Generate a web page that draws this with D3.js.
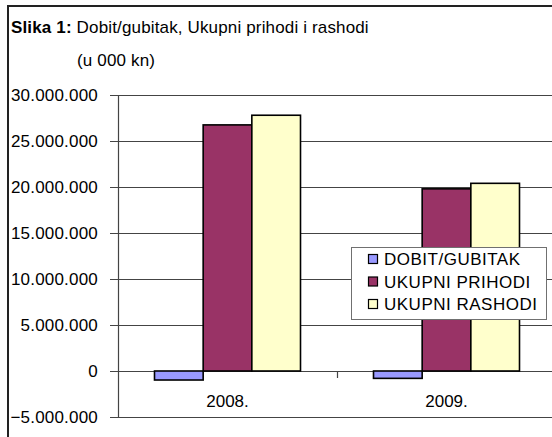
<!DOCTYPE html>
<html><head><meta charset="utf-8">
<script src="https://cdn.jsdelivr.net/npm/d3@7"></script>
<style>
body{margin:0;background:#fff;}
text{font-family:"Liberation Sans",Arial,sans-serif;fill:#000;}
</style></head>
<body><svg id="c" width="552" height="437"></svg>
<script>
const categories = ["2008.", "2009."];
const seriesNames = ["DOBIT/GUBITAK", "UKUPNI PRIHODI", "UKUPNI RASHODI"];
const seriesColors = ["#9999FF", "#993366", "#FFFFCC"];
const dobit = [-980000, -800000];
const prihodi = [26750000, 19800000];
const rashodi = [27800000, 20400000];
const yTicks = [-5000000, 0, 5000000, 10000000, 15000000, 20000000, 25000000, 30000000];

const values = [dobit, prihodi, rashodi];
const svg = d3.select("#c");

// outer frame
svg.append("line").attr("x1",8).attr("x2",552).attr("y1",6).attr("y2",6).attr("stroke","#222").attr("stroke-width",2);
svg.append("line").attr("x1",8).attr("x2",8).attr("y1",5).attr("y2",437).attr("stroke","#222").attr("stroke-width",2);

// title
const t = svg.append("text").attr("x",11).attr("y",33).attr("font-size",17).attr("letter-spacing",0.15);
t.append("tspan").attr("font-weight","bold").text("Slika 1:");
t.append("tspan").text(" Dobit/gubitak, Ukupni prihodi i rashodi");
svg.append("text").attr("x",77).attr("y",66).attr("font-size",17).attr("letter-spacing",0.15).text("(u 000 kn)");

const y = d3.scaleLinear().domain([-5000000, 30000000]).range([417, 95]);
const x0 = d3.scaleBand().domain(categories).range([118, 556]).paddingInner(0).paddingOuter(0);
const x1 = d3.scaleBand().domain(seriesNames).range([0, x0.bandwidth()]).paddingInner(0).paddingOuter(0.75);

const fmt = v => d3.format(",")(v).replace(/,/g, ".");

// gridlines
svg.append("g").selectAll("line").data(yTicks).join("line")
  .attr("x1",110).attr("x2",552)
  .attr("y1",d=>Math.round(y(d))+0.5).attr("y2",d=>Math.round(y(d))+0.5)
  .attr("stroke","#444").attr("stroke-width",1.2);

// y labels
svg.append("g").selectAll("text").data(yTicks).join("text")
  .attr("x",98).attr("y",d=>y(d)+6).attr("text-anchor","end").attr("font-size",17).attr("letter-spacing",0.2)
  .text(fmt);

// y axis line
svg.append("line").attr("x1",118.5).attr("x2",118.5).attr("y1",y(30000000)).attr("y2",y(-5000000))
  .attr("stroke","#444").attr("stroke-width",1.2);

// category ticks on zero line
svg.append("g").selectAll("line").data(categories.slice(1)).join("line")
  .attr("x1",d=>Math.round(x0(d))+0.5).attr("x2",d=>Math.round(x0(d))+0.5)
  .attr("y1",y(0)).attr("y2",y(0)+7).attr("stroke","#444").attr("stroke-width",1.2);

// bars
categories.forEach((c, ci) => {
  seriesNames.forEach((s, si) => {
    const v = values[si][ci];
    svg.append("rect")
      .attr("x", x0(c) + x1(s))
      .attr("y", y(Math.max(0, v)))
      .attr("width", x1.bandwidth())
      .attr("height", Math.abs(y(v) - y(0)))
      .attr("fill", seriesColors[si])
      .attr("stroke", "#000").attr("stroke-width", 1.6);
  });
});

// category labels
svg.append("g").selectAll("text").data(categories).join("text")
  .attr("x",d=>x0(d)+x0.bandwidth()/2).attr("y",407).attr("text-anchor","middle").attr("font-size",17)
  .text(d=>d);

// legend
const lg = svg.append("g");
lg.append("rect").attr("x",351.5).attr("y",247.5).attr("width",195).attr("height",72)
  .attr("fill","#fff").attr("stroke","#707070").attr("stroke-width",1);
seriesNames.forEach((s, i) => {
  const cy = 259 + i * 22.5;
  lg.append("rect").attr("x",368.5).attr("y",cy-4.5).attr("width",9).attr("height",9)
    .attr("fill",seriesColors[i]).attr("stroke","#000").attr("stroke-width",1.2);
  lg.append("text").attr("x",384).attr("y",cy+6).attr("font-size",17).attr("letter-spacing",0.5).text(s);
});
</script></body></html>
